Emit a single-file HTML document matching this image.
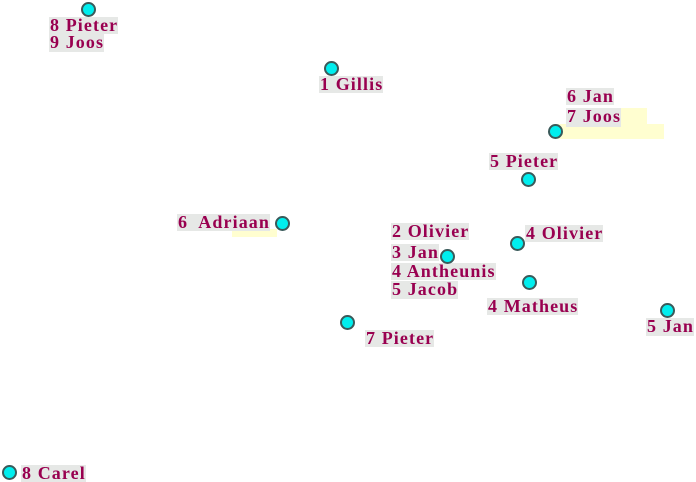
<!DOCTYPE html>
<html><head><meta charset="utf-8"><style>
html,body{margin:0;padding:0;background:#fff;width:696px;height:482px;overflow:hidden;position:relative}
.l{position:absolute;background:#e6e8e6;color:#990050;font:bold 18px/17px "Liberation Serif",serif;white-space:pre;padding:0 0 0 1px;letter-spacing:1.1px}
.y{position:absolute;background:#fffed0}
.d{position:absolute;width:11px;height:11px;border-radius:50%;background:#00eeee;border:2px solid #3a5a5a;box-sizing:content-box}
</style></head><body>
<div class="y" style="left:567px;top:108px;width:80px;height:17px"></div>
<div class="y" style="left:555px;top:124px;width:109px;height:15px"></div>
<div class="y" style="left:232px;top:229px;width:45px;height:8px"></div>

<div class="l" style="left:49px;top:17px">8 Pieter</div>
<div class="l" style="left:49px;top:34px;height:18px">9 Joos</div>
<div class="l" style="left:319px;top:76px">1 Gillis</div>
<div class="l" style="left:566px;top:88px">6 Jan</div>
<div class="l" style="left:566px;top:108px;height:19px">7 Joos</div>
<div class="l" style="left:489px;top:153px">5 Pieter</div>
<div class="l" style="left:177px;top:214px">6  Adriaan</div>
<div class="l" style="left:391px;top:223px">2 Olivier</div>
<div class="l" style="left:391px;top:244px">3 Jan</div>
<div class="l" style="left:391px;top:263px">4 Antheunis</div>
<div class="l" style="left:391px;top:281px;height:18px">5 Jacob</div>
<div class="l" style="left:525px;top:225px">4 Olivier</div>
<div class="l" style="left:487px;top:298px">4 Matheus</div>
<div class="l" style="left:646px;top:318px;height:18px">5 Jan</div>
<div class="l" style="left:365px;top:330px">7 Pieter</div>
<div class="l" style="left:21px;top:465px;height:17px">8 Carel</div>

<div class="d" style="left:81px;top:2px"></div>
<div class="d" style="left:324px;top:61px"></div>
<div class="d" style="left:548px;top:124px"></div>
<div class="d" style="left:521px;top:172px"></div>
<div class="d" style="left:275px;top:216px"></div>
<div class="d" style="left:510px;top:236px"></div>
<div class="d" style="left:440px;top:249px"></div>
<div class="d" style="left:522px;top:275px"></div>
<div class="d" style="left:660px;top:303px"></div>
<div class="d" style="left:340px;top:315px"></div>
<div class="d" style="left:2px;top:465px"></div>
</body></html>
